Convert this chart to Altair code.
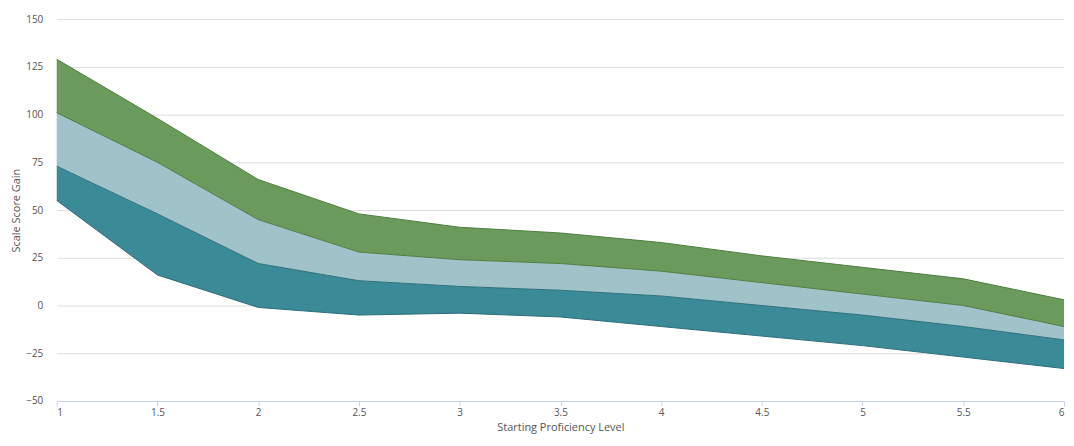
import altair as alt
import pandas as pd

x = [1, 1.5, 2, 2.5, 3, 3.5, 4, 4.5, 5, 5.5, 6]
bottom = [55, 16, -1, -5, -4, -6, -11, -16, -21, -27, -33]
b1 = [73, 48, 22, 13, 10, 8, 5, 0, -5, -11, -18]
b2 = [101, 75, 45, 28, 24, 22, 18, 12, 6, 0, -11]
top = [129, 98, 66, 48, 41, 38, 33, 26, 20, 14, 3]

df = pd.DataFrame({"x": x, "bottom": bottom, "b1": b1, "b2": b2, "top": top})

X = alt.X("x:Q", title="Starting Proficiency Level",
          scale=alt.Scale(domain=[1, 6], nice=False),
          axis=alt.Axis(values=x, grid=False, labelColor="#555", titleColor="#555",
                        domainColor="#c8d2e6", tickColor="#c8d2e6", labelFontSize=10,
                        titleFontSize=11, titleFontWeight="normal", labelExpr="datum.value"))
Yax = alt.Axis(values=list(range(-50, 151, 25)), gridColor="#dddddd", domain=False, ticks=False,
               labelColor="#555", titleColor="#555", labelFontSize=10, titleFontSize=11,
               titleFontWeight="normal", labelPadding=14)
Y = lambda f: alt.Y(f + ":Q", title="Scale Score Gain", scale=alt.Scale(domain=[-50, 150]), axis=Yax)

base = alt.Chart(df)
a1 = base.mark_area(color="#3a8a98", opacity=1).encode(x=X, y=Y("bottom"), y2="b1")
a2 = base.mark_area(color="#9fc3c9", opacity=1).encode(x=X, y=Y("b1"), y2="b2")
a3 = base.mark_area(color="#6b9b5c", opacity=1).encode(x=X, y=Y("b2"), y2="top")
l = [base.mark_line(color=c, strokeWidth=1).encode(x=X, y=Y(f))
     for f, c in [("bottom", "#2a6e7a"), ("b1", "#2a6e7a"), ("b2", "#4e7d40"), ("top", "#4e7d40")]]

chart = alt.layer(a1, a2, a3, *l).properties(
    width=1064, height=428,
    autosize=alt.AutoSizeParams(type="fit", contains="padding")).configure(
    font="Open Sans", padding={"left": 2, "top": 5, "right": 0, "bottom": 2},
    view=alt.ViewConfig(stroke=None))
chart.save("out.html", embed_options={"renderer": "svg", "actions": False})
